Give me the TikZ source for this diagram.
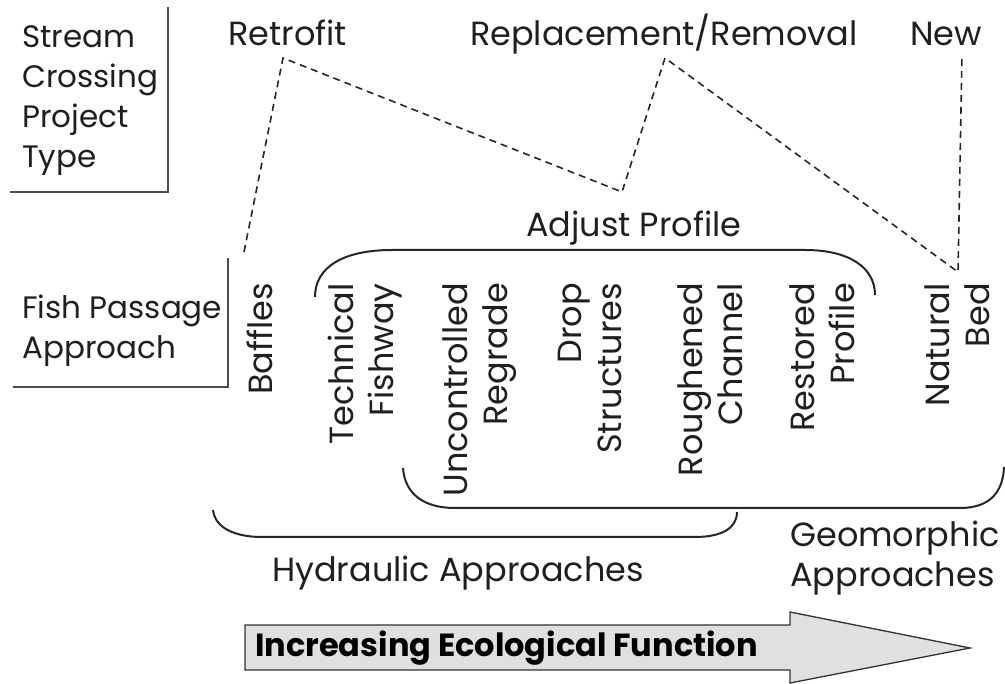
\documentclass[tikz,border=0pt]{standalone}
\usepackage{fontspec}
\setmainfont{Poppins}
\usetikzlibrary{positioning}

\begin{document}
\begin{tikzpicture}[x=1pt, y=-1pt,
    lbl/.style={font=\fontsize{33.5}{40}\selectfont, text=black!88, inner sep=0pt, align=left},
    head/.style={lbl, font=\fontsize{31}{40}\selectfont, anchor=north west},
    vlbl/.style={lbl, rotate=90, anchor=north east, align=right},
    frame/.style={line width=1.3pt, black!70},
    brace/.style={line width=2pt, black!85},
    link/.style={line width=1.6pt, black!85, dash pattern=on 7pt off 5pt}
]
\useasboundingbox (0,0) rectangle (1005,684);

%% row headings
\node[head] (crossing) at (22,25) {Stream\\Crossing\\Project\\Type};
\node[head] (approach) at (22,295) {Fish Passage\\Approach};
\draw[frame] (168,7) -- (168,192) -- (10,192);
\draw[frame] (228,258) -- (228,387) -- (13,387);

%% project types
\node[lbl, anchor=base west] (retrofit) at (228,46) {Retrofit};
\node[lbl, anchor=base west] (replace) at (470,46) {Replacement/Removal};
\node[lbl, anchor=base west] (new) at (910,46) {New};

%% approaches
\node[vlbl] (baffles) at (247,283) {Baffles};
\node[vlbl] (fishway) at (328,283) {Technical\\Fishway};
\node[vlbl] (regrade) at (443,283) {Uncontrolled\\Regrade};
\node[vlbl] (drop) at (558,283) {Drop\\Structures};
\node[vlbl] (rough) at (678,283) {Roughened\\Channel};
\node[vlbl] (restored) at (790,283) {Restored\\Profile};
\node[vlbl] (natural) at (925,283) {Natural\\Bed};

%% which approaches go with which project type
\coordinate (p0) at (244,252);
\coordinate (p1) at (283,58);
\coordinate (p2) at (622,192);
\coordinate (p3) at (665,58);
\coordinate (p4) at (958,272);
\coordinate (p5) at (962,55);
\draw[link] (p0) -- (p1) -- (p2) -- (p3) -- (p4) -- (p5);

%% groupings
\node[lbl, anchor=north west] (adjust) at (526,211) {Adjust Profile};
\draw[brace] (315,297) .. controls (315,266) and (345,250) .. (392,250)
    -- (805,250) .. controls (850,250) and (875,268) .. (875,295);
\draw[brace] (403,468) .. controls (405,495) and (425,508) .. (455,508)
    -- (960,508) .. controls (990,508) and (1003,492) .. (1004,467);
\draw[brace] (213,510) .. controls (215,528) and (235,537) .. (262,537)
    -- (695,537) .. controls (722,537) and (737,528) .. (737,512);
\node[lbl, anchor=north west] (hydraulic) at (272,556) {Hydraulic Approaches};
\node[lbl, anchor=north west] (geomorphic) at (790,521) {Geomorphic\\Approaches};

%% direction of increasing function
\draw[line width=1.3pt, black!80, fill=black!12] (245,625) -- (790,625) -- (790,612)
    -- (970,648) -- (790,683) -- (790,670) -- (245,670) -- cycle;
\node[lbl, font=\fontsize{32}{36}\selectfont\bfseries, anchor=west, text=black] (function) at (255,648) {Increasing Ecological Function};

\end{tikzpicture}
\end{document}
